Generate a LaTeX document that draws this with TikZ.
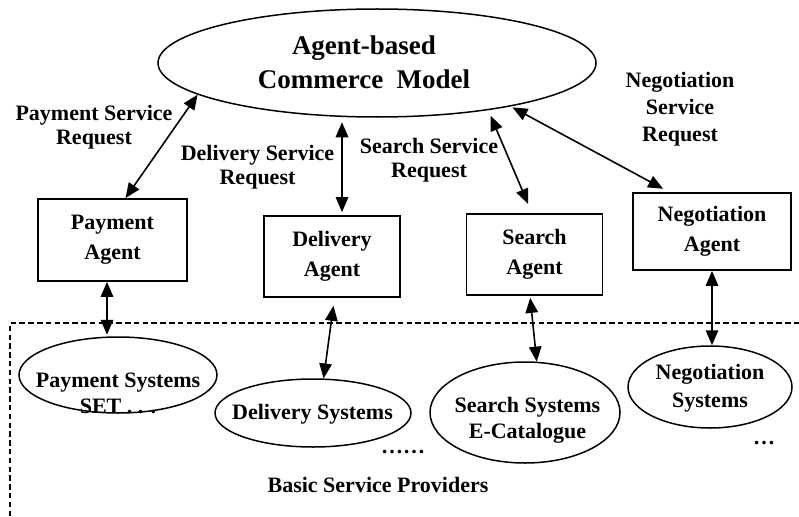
\documentclass[tikz,border=0pt]{standalone}
\usepackage{fontspec}
\setmainfont{Liberation Serif}
\usetikzlibrary{shapes.geometric,arrows.meta}
\begin{document}
\begin{tikzpicture}[x=1pt,y=-1pt,
  txt/.style={font=\fontsize{22}{24}\selectfont\bfseries, align=center, inner sep=0pt},
  agent/.style={draw, line width=1.8pt, inner sep=0pt, align=center,
    font=\fontsize{22}{30}\selectfont\bfseries},
  sys/.style={draw, ellipse, line width=1.5pt, inner sep=0pt},
  biarrow/.style={{Triangle[length=15pt,width=12.5pt]}-{Triangle[length=15pt,width=12.5pt]}, line width=1.6pt},
  boundary/.style={line width=1.3pt, dash pattern=on 5.5pt off 3.3pt}]
\useasboundingbox (0,0) rectangle (799,516);

% central model
\node[sys, minimum width=438pt, minimum height=108pt] (model) at (377,63) {};
\node[txt, font=\fontsize{27}{34}\selectfont\bfseries] (modeltext) at (364,62) {Agent-based\\Commerce\ \ Model};

% agents
\node[agent, minimum width=149pt, minimum height=82pt] (payagent) at (112.5,240) {Payment\\Agent};
\node[agent, minimum width=136pt, minimum height=81pt] (delagent) at (332,256.5) {Delivery\\Agent};
\node[agent, minimum width=136pt, minimum height=81pt] (srchagent) at (534.5,254.5) {Search\\Agent};
\node[agent, minimum width=158pt, minimum height=77pt] (negagent) at (712,231.5) {Negotiation\\Agent};

% service request labels
\node[txt] (paylbl) at (94,127.5) {Payment Service\\Request};
\node[txt] (dellbl) at (257.5,167) {Delivery Service\\Request};
\node[txt] (srchlbl) at (429,160) {Search Service\\Request};
\node[txt, font=\fontsize{22}{27}\selectfont\bfseries] (neglbl) at (680,109) {Negotiation\\Service\\Request};

% basic service providers area
\coordinate (dashcorner) at (10,323);
\draw[boundary] (10,516) -- (dashcorner) -- (799,323);

\node[sys, minimum width=198pt, minimum height=76pt] (paysys) at (118,375) {};
\node[txt, font=\fontsize{22}{26}\selectfont\bfseries] (paysystext) at (118,393) {Payment Systems\\SET . . .};
\node[sys, minimum width=196pt, minimum height=68pt] (delsys) at (313,413) {};
\node[txt] (delsystext) at (312.5,414) {Delivery Systems};
\node[sys, minimum width=190pt, minimum height=101pt] (srchsys) at (525,412.5) {};
\node[txt, font=\fontsize{22}{26}\selectfont\bfseries] (srchsystext) at (527.5,420) {Search Systems\\E-Catalogue};
\node[sys, minimum width=164pt, minimum height=82pt] (negsys) at (710,387) {};
\node[txt, font=\fontsize{22}{28}\selectfont\bfseries] (negsystext) at (710,388) {Negotiation\\Systems};

\node[txt] (moredel) at (403,452) {……};
\node[txt] (moreneg) at (764,443) {…};
\node[txt] (basic) at (378,485) {Basic Service Providers};

% model <-> agents
\draw[biarrow] ([xshift=13pt]payagent.north) -- (model.190.5);
\draw[biarrow, shorten <=3pt, shorten >=4.5pt] ([xshift=10pt]delagent.north) -- ([xshift=10pt]delagent.north |- model.south);
\draw[biarrow, shorten <=10pt, shorten >=6pt] ([xshift=-2.5pt]srchagent.north) -- (model.337.7);
\draw[biarrow, shorten <=7pt, shorten >=2pt] ([xshift=-42.7pt]negagent.north) -- (model.342.9);

% agents <-> service systems
\draw[biarrow, shorten >=1.5pt] ([xshift=-5.5pt]payagent.south) -- ([xshift=-5.5pt]payagent.south |- paysys.north);
\draw[biarrow, shorten <=8pt] ([xshift=2.5pt]delagent.south) -- (delsys.73.5);
\draw[biarrow, shorten <=2pt] ([xshift=-4.5pt]srchagent.south) -- (srchsys.77.2);
\draw[biarrow] (negagent.south) -- (negagent.south |- negsys.north);
\end{tikzpicture}
\end{document}
